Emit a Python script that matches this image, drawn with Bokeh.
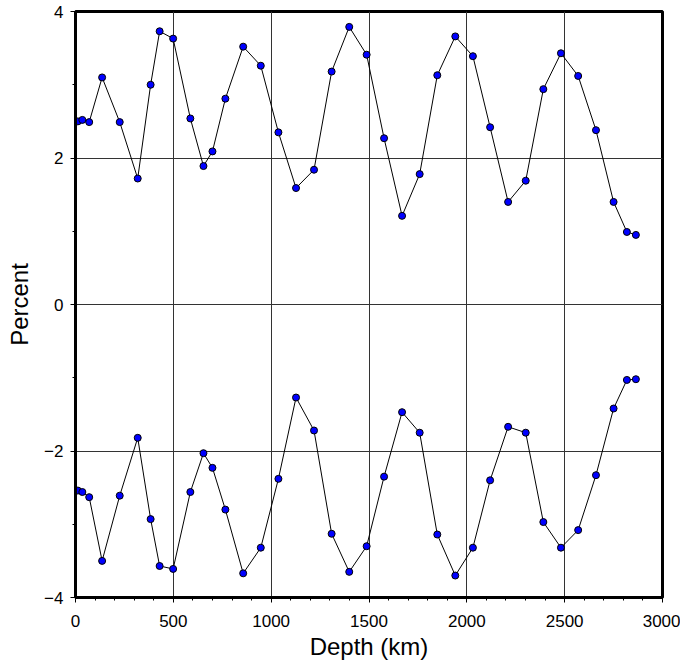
from bokeh.plotting import figure
from bokeh.models import Range1d, SingleIntervalTicker
from bokeh.embed import file_html
from bokeh.resources import INLINE

depth = [12, 35, 70, 136, 226, 318, 384, 430, 499, 587, 654, 700, 766, 857, 947,
         1037, 1127, 1219, 1309, 1399, 1488, 1577, 1669, 1759, 1849, 1941, 2031,
         2119, 2211, 2301, 2391, 2481, 2569, 2660, 2750, 2818, 2864]
upper = [2.50, 2.52, 2.49, 3.10, 2.49, 1.72, 3.00, 3.73, 3.63, 2.54, 1.89, 2.09,
         2.81, 3.52, 3.26, 2.35, 1.59, 1.84, 3.18, 3.79, 3.41, 2.27, 1.21, 1.78,
         3.13, 3.66, 3.39, 2.42, 1.40, 1.69, 2.94, 3.43, 3.12, 2.38, 1.40, 0.99, 0.95]
lower = [-2.54, -2.56, -2.63, -3.50, -2.61, -1.82, -2.93, -3.57, -3.61, -2.56,
         -2.03, -2.23, -2.80, -3.67, -3.32, -2.38, -1.27, -1.72, -3.13, -3.65,
         -3.30, -2.35, -1.47, -1.75, -3.14, -3.70, -3.32, -2.40, -1.67, -1.75,
         -2.97, -3.32, -3.08, -2.33, -1.42, -1.03, -1.02]

x_label = "Depth (km)"
y_label = "Percent"
y_tick_labels = {-4: "\u22124", -2: "\u22122", 0: "0", 2: "2", 4: "4"}

p = figure(width=680, height=663, output_backend="svg", toolbar_location=None,
           x_range=Range1d(0, 3000), y_range=Range1d(-4, 4),
           min_border_left=75, min_border_right=18, min_border_top=11,
           min_border_bottom=66)

p.outline_line_color = "black"
p.outline_line_width = 3
p.background_fill_color = "white"

p.xaxis.ticker = SingleIntervalTicker(interval=500, num_minor_ticks=5)
p.yaxis.ticker = SingleIntervalTicker(interval=2, num_minor_ticks=2)
p.yaxis.major_label_overrides = y_tick_labels

for ax in (p.xaxis, p.yaxis):
    ax.axis_line_width = 3
    ax.axis_line_color = "black"
    ax.major_tick_in = 0
    ax.major_tick_out = 5
    ax.minor_tick_in = 0
    ax.minor_tick_out = 3
    ax.major_tick_line_color = "black"
    ax.minor_tick_line_color = "black"
    ax.major_label_text_font = "Liberation Sans"
    ax.major_label_text_font_size = "17px"
    ax.major_label_text_color = "black"
    ax.axis_label_text_font = "Liberation Sans"
    ax.axis_label_text_font_size = "24px"
    ax.axis_label_text_font_style = "normal"
    ax.axis_label_text_color = "black"

p.xaxis.axis_label = x_label
p.yaxis.axis_label = y_label
p.xaxis.major_label_standoff = 12
p.yaxis.major_label_standoff = 7
p.xaxis.axis_label_standoff = 3
p.yaxis.axis_label_standoff = 8

p.xgrid.ticker = SingleIntervalTicker(interval=500)
p.ygrid.ticker = SingleIntervalTicker(interval=2)
p.grid.grid_line_color = "#333333"
p.grid.grid_line_width = 1

for ys in (upper, lower):
    p.line(depth, ys, line_color="black", line_width=1)
    p.scatter(depth, ys, size=7, fill_color="#0000ff", line_color="black",
              line_width=1)

open("out.html", "w").write(file_html(p, INLINE))
